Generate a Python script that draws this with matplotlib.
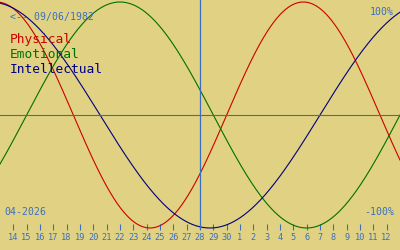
import numpy as np
import pandas as pd
import matplotlib
matplotlib.use("Agg")
import matplotlib.pyplot as plt

# ---- data ----
birth_date = "1982-06-09"
center_date = "2026-04-28"
series_names = ["Physical", "Emotional", "Intellectual"]
periods = [23, 28, 33]
series_colors = ["#cc0000", "#007000", "#000080"]
days_before = 15
days_after = 15
tick_start = "2026-04-14"
tick_end = "2026-05-12"

BG = "#e0d282"
BLUE = "#3a6fc0"

fig = plt.figure(figsize=(4, 2.5), dpi=100, facecolor=BG)
H = 250.0
ax_bottom_px = 230.0
ax = fig.add_axes([0, 1 - ax_bottom_px / H, 1, ax_bottom_px / H])
ax.set_facecolor(BG)

center = pd.Timestamp(center_date)
days0 = (center - pd.Timestamp(birth_date)).days
t = np.linspace(-days_before, days_after, 1200)
for name, p, c in zip(series_names, periods, series_colors):
    ax.plot(t, np.sin(2 * np.pi * (days0 + t) / p), color=c, lw=0.8)

ax.axhline(0, color="#4a6c90", lw=0.8)
ax.axvline(0, color=BLUE, lw=0.9)

amp = 113.0
ax.set_ylim(-115 / amp, 115 / amp)
ax.set_xlim(-days_before, days_after)

ticks = pd.date_range(tick_start, tick_end, freq="D")
ax.set_xticks([(d - center).days for d in ticks])
ax.set_xticklabels([str(d.day) for d in ticks])
ax.tick_params(axis="x", direction="in", length=4.3, width=0.8, color=BLUE,
               labelcolor=BLUE, labelsize=6.2, pad=2.5)
for lab in ax.get_xticklabels():
    lab.set_family("DejaVu Sans Mono")
ax.set_yticks([])
for s in ax.spines.values():
    s.set_visible(False)

mono = "DejaVu Sans Mono"
def px(x, y):
    return x / 400.0, 1 - y / H

fig.text(*px(10, 17), "<-- " + "09/06/1982", color=BLUE, fontsize=7.1,
         family=mono, va="center", ha="left")
for i, (name, c) in enumerate(zip(series_names, series_colors)):
    fig.text(*px(10, 43 + 15 * i), name, color=c, fontsize=9.3, family=mono,
             va="baseline", ha="left")
fig.text(*px(394, 12), "100%", color=BLUE, fontsize=7.1, family=mono,
         va="center", ha="right")
fig.text(*px(394, 212), "-100%", color=BLUE, fontsize=7.1, family=mono,
         va="center", ha="right")
fig.text(*px(4, 212), center.strftime("%m-%Y"), color=BLUE, fontsize=7.1,
         family=mono, va="center", ha="left")

fig.savefig("out.png", dpi=100, facecolor=BG)
